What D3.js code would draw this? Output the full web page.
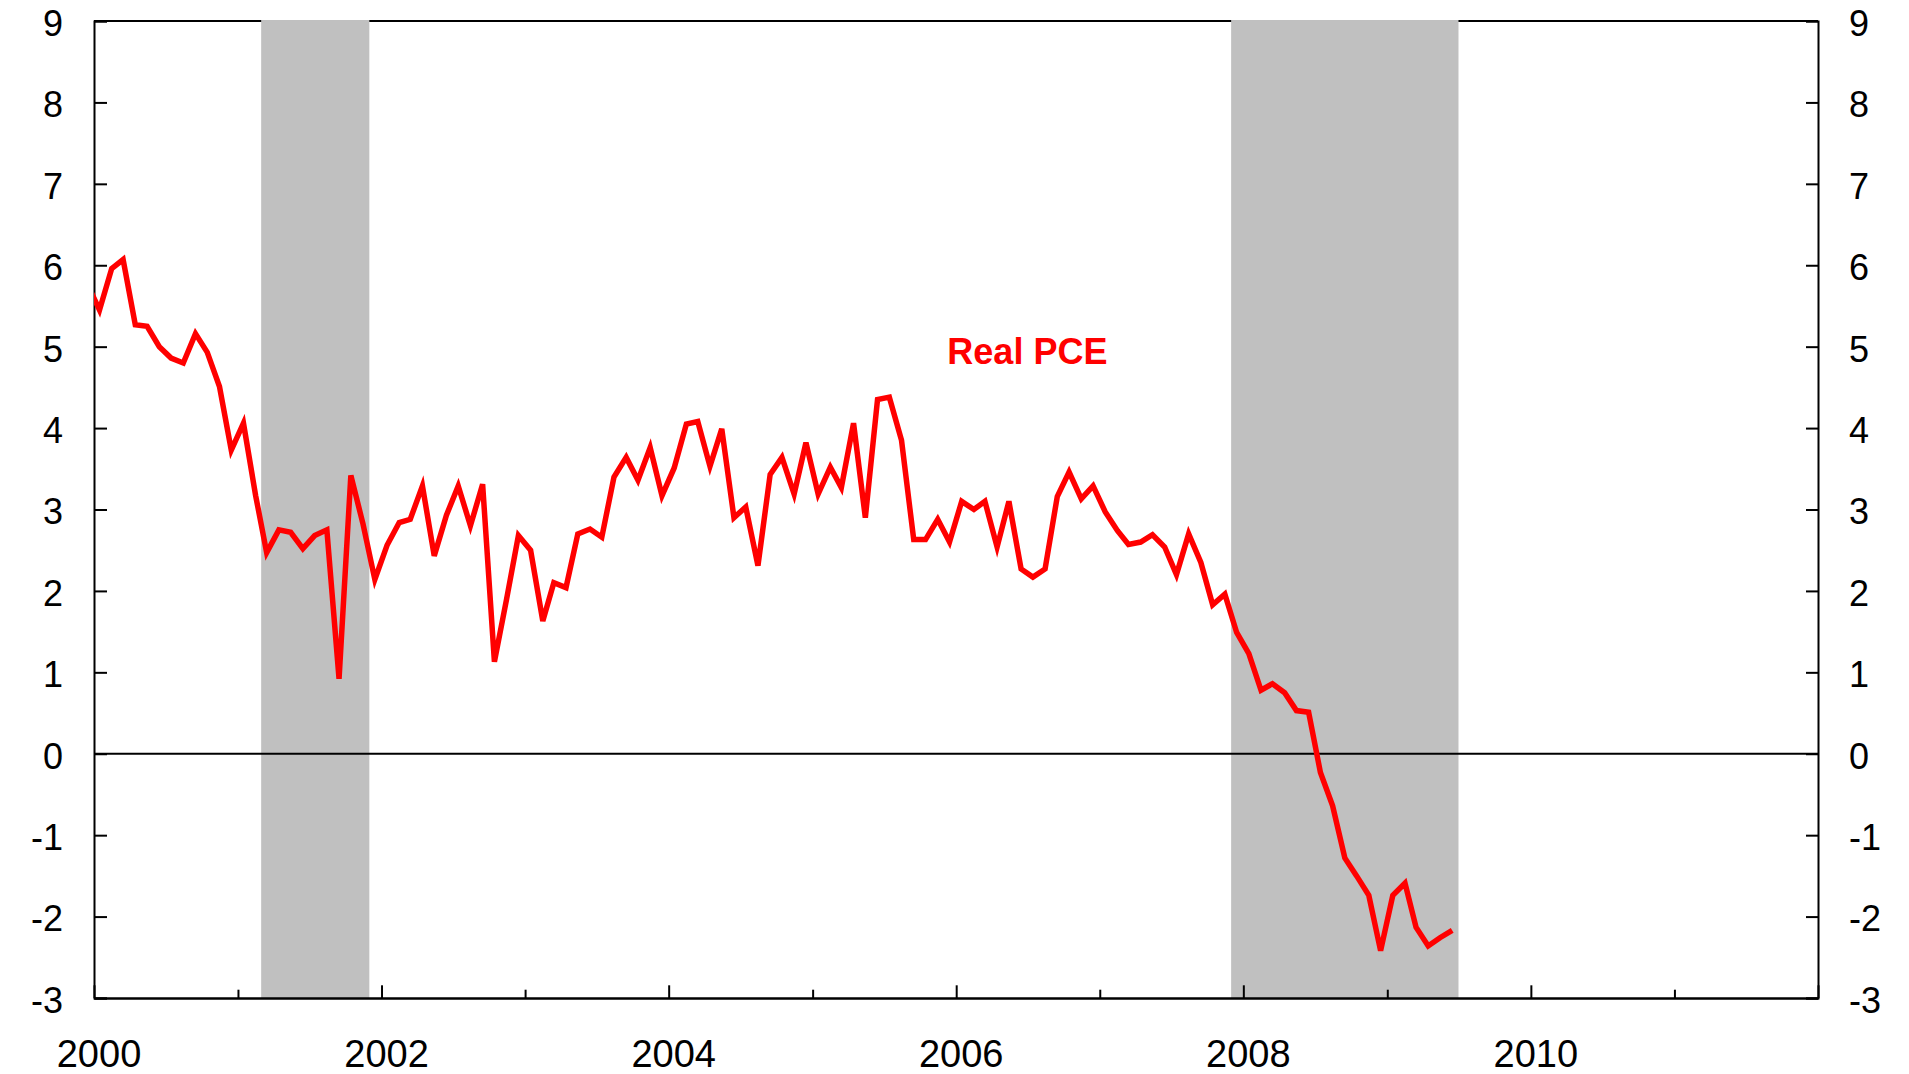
<!DOCTYPE html>
<html>
<head>
<meta charset="utf-8">
<script src="https://cdn.jsdelivr.net/npm/d3@7"></script>
<style>
  body { margin: 0; background: #fff; }
  text { font-family: Arial, "Liberation Sans", sans-serif; }
</style>
</head>
<body>
<div id="chart"></div>
<script>
// Real PCE, % change from year earlier, monthly Dec 1999 - Jun 2009
const firstMonth = "1999-12";
const pceValues = [
  5.77,
  5.45, 5.96, 6.07, 5.27, 5.25, 5.00, 4.86, 4.80, 5.16, 4.93, 4.51, 3.73,
  4.06, 3.17, 2.47, 2.75, 2.72, 2.52, 2.68, 2.75, 0.92, 3.42, 2.82, 2.14,
  2.56, 2.84, 2.88, 3.29, 2.43, 2.93, 3.29, 2.80, 3.31, 1.13, 1.90, 2.68,
  2.50, 1.63, 2.10, 2.04, 2.70, 2.76, 2.66, 3.40, 3.64, 3.36, 3.76, 3.17,
  3.51, 4.05, 4.08, 3.53, 3.99, 2.90, 3.03, 2.31, 3.43, 3.64, 3.19, 3.82,
  3.19, 3.52, 3.27, 4.06, 2.90, 4.35, 4.38, 3.85, 2.63, 2.63, 2.88, 2.60,
  3.10, 3.00, 3.10, 2.54, 3.10, 2.27, 2.17, 2.27, 3.16, 3.46, 3.13, 3.29,
  2.97, 2.74, 2.57, 2.60, 2.69, 2.54, 2.20, 2.70, 2.35, 1.83, 1.96, 1.49,
  1.23, 0.78, 0.86, 0.75, 0.53, 0.51, -0.23, -0.64, -1.28, -1.50, -1.74, -2.42,
  -1.74, -1.59, -2.13, -2.36, -2.26, -2.17
];
const recessions = [
  ["2001-03-01", "2001-12-01"],
  ["2007-12-01", "2009-07-01"]
];
const yTicks = [-3, -2, -1, 0, 1, 2, 3, 4, 5, 6, 7, 8, 9];
const xDomain = ["2000-01-01", "2012-01-01"];
const seriesLabel = "Real PCE";

const W = 1909, H = 1074;
const margin = {top: 21, right: 91, bottom: 76, left: 94},
    width = W - margin.left - margin.right,
    height = H - margin.top - margin.bottom;

const parse = d3.timeParse("%Y-%m-%d");
const start = d3.timeParse("%Y-%m")(firstMonth);
const data = pceValues.map((v, i) => ({
  date: d3.timeDay.offset(d3.timeMonth.offset(start, i), 14),
  value: v
}));

const svg = d3.select("#chart")
  .append("svg")
    .attr("width", W)
    .attr("height", H)
  .append("g")
    .attr("transform", `translate(${margin.left},${margin.top})`);

const x = d3.scaleTime()
  .domain(xDomain.map(parse))
  .range([0, width]);

const y = d3.scaleLinear()
  .domain([-3, 9])
  .range([height, 0]);

svg.append("defs").append("clipPath")
    .attr("id", "clip")
  .append("rect")
    .attr("width", width)
    .attr("height", height);

// top border first, bands sit over it
svg.append("line")
  .attr("x1", 0).attr("x2", width)
  .attr("y1", 0).attr("y2", 0)
  .attr("stroke", "#000").attr("stroke-width", 2);

// recession shading
svg.selectAll(".band")
  .data(recessions)
  .join("rect")
    .attr("class", "band")
    .attr("x", d => x(parse(d[0])))
    .attr("y", -1)
    .attr("width", d => x(parse(d[1])) - x(parse(d[0])))
    .attr("height", height + 1)
    .attr("fill", "#c0c0c0");

// zero line
svg.append("line")
  .attr("x1", 0).attr("x2", width)
  .attr("y1", y(0)).attr("y2", y(0))
  .attr("stroke", "#000").attr("stroke-width", 2);

// left + right axes, plain hyphen for negatives
const fmt = d => String(d);
const yLeft = svg.append("g")
  .call(d3.axisLeft(y).tickValues(yTicks).tickSize(-13).tickPadding(31).tickFormat(fmt));
const yRight = svg.append("g")
  .attr("transform", `translate(${width},0)`)
  .call(d3.axisRight(y).tickValues(yTicks).tickSize(-12).tickPadding(31).tickFormat(fmt));

[yLeft, yRight].forEach(g => {
  g.select(".domain").attr("stroke-width", 2);
  g.selectAll(".tick line").attr("stroke-width", 2);
  g.selectAll(".tick text")
    .attr("font-size", 36)
    .attr("fill", "#000")
    .attr("dy", "0.4em");
});

// bottom axis
const years = d3.timeYear.range(parse(xDomain[0]), d3.timeYear.offset(parse(xDomain[1]), 1));
const xAxis = svg.append("g")
  .attr("transform", `translate(0,${height})`)
  .call(d3.axisBottom(x).tickValues(years).tickSize(0).tickFormat(""));
xAxis.select(".domain").attr("stroke-width", 2.5);
xAxis.selectAll(".tick line")
  .attr("y2", d => d.getFullYear() % 2 === 0 ? -12.7 : -8.3)
  .attr("stroke-width", 2);

svg.append("g")
  .selectAll("text")
  .data(years.filter(d => d.getFullYear() % 2 === 0 && d.getFullYear() < 2012))
  .join("text")
    .attr("x", d => x(d) + 5)
    .attr("y", height + 69)
    .attr("text-anchor", "middle")
    .attr("font-size", 38)
    .attr("fill", "#000")
    .text(d3.timeFormat("%Y"));

// series
const line = d3.line()
  .x(d => x(d.date))
  .y(d => y(d.value));

svg.append("path")
  .datum(data)
  .attr("clip-path", "url(#clip)")
  .attr("fill", "none")
  .attr("stroke", "#ff0000")
  .attr("stroke-width", 5.5)
  .attr("stroke-linejoin", "miter")
  .attr("d", line);

svg.append("text")
  .attr("x", x(parse("2006-07-01")))
  .attr("y", y(4.79))
  .attr("text-anchor", "middle")
  .attr("font-size", 36)
  .attr("font-weight", "bold")
  .attr("fill", "#ff0000")
  .text(seriesLabel);
</script>
</body>
</html>
